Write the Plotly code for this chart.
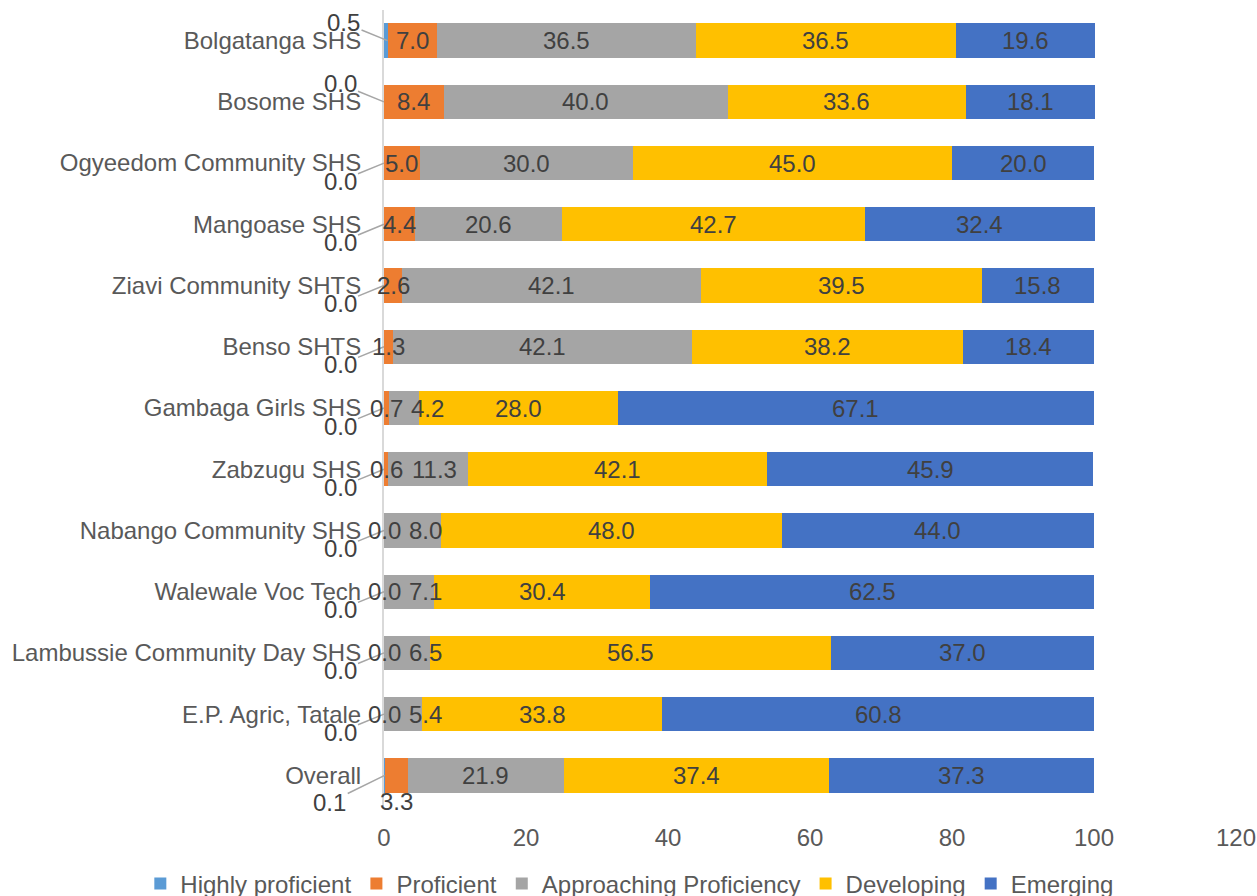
import plotly.graph_objects as go

categories = ["Bolgatanga SHS", "Bosome SHS", "Ogyeedom Community SHS", "Mangoase SHS",
              "Ziavi Community SHTS", "Benso SHTS", "Gambaga Girls SHS", "Zabzugu SHS",
              "Nabango Community SHS", "Walewale Voc Tech", "Lambussie Community Day SHS",
              "E.P. Agric, Tatale", "Overall"]
highly_proficient = [0.5, 0.0, 0.0, 0.0, 0.0, 0.0, 0.0, 0.0, 0.0, 0.0, 0.0, 0.0, 0.1]
proficient = [7.0, 8.4, 5.0, 4.4, 2.6, 1.3, 0.7, 0.6, 0.0, 0.0, 0.0, 0.0, 3.3]
approaching = [36.5, 40.0, 30.0, 20.6, 42.1, 42.1, 4.2, 11.3, 8.0, 7.1, 6.5, 5.4, 21.9]
developing = [36.5, 33.6, 45.0, 42.7, 39.5, 38.2, 28.0, 42.1, 48.0, 30.4, 56.5, 33.8, 37.4]
emerging = [19.6, 18.1, 20.0, 32.4, 15.8, 18.4, 67.1, 45.9, 44.0, 62.5, 37.0, 60.8, 37.3]
x_ticks = [0, 20, 40, 60, 80, 100, 120]

series = [
    ("Highly proficient", highly_proficient, "#5B9BD5"),
    ("Proficient", proficient, "#ED7D31"),
    ("Approaching Proficiency", approaching, "#A5A5A5"),
    ("Developing", developing, "#FFC000"),
    ("Emerging", emerging, "#4472C4"),
]

FONT = "Liberation Sans, Arial, sans-serif"
FS = 24
W, H = 1257, 896
ML, MR, MT, MB = 384, 21, 10, 90
X_MAX = 120
PX_PER_UNIT = (W - ML - MR) / X_MAX


def text_width(s):
    return FS * sum(0.278 if c == "." else 0.556 for c in s)


fig = go.Figure()
for name, vals, color in series:
    fig.add_trace(go.Bar(
        y=categories, x=vals, name=name, orientation="h",
        marker=dict(color=color, line=dict(width=0)),
    ))

last = len(categories) - 1
annotations = []
base = [0.0] * len(categories)
prev_right = [None] * len(categories)  # right edge (px from x=0) of previous inside label
for si, (name, vals, color) in enumerate(series):
    for i, v in enumerate(vals):
        txt = f"{v:.1f}"
        if si == 0:
            ay = -18 if i < 2 else (27 if i == last else 18)
            ax = -55 if i == last else -44
            annotations.append(dict(
                x=base[i] + v, y=categories[i], xref="x", yref="y",
                text=txt, showarrow=True, arrowhead=0, arrowwidth=1.5,
                arrowcolor="#A6A6A6", ax=ax, ay=ay, standoff=0,
                font=dict(family=FONT, size=FS, color="#404040"),
            ))
        else:
            yshift = 0
            xshift = 0
            centre_px = (base[i] + v / 2) * PX_PER_UNIT
            tw = text_width(txt)
            if si == 1 and i == last:
                yshift = -26
            elif prev_right[i] is not None and centre_px - tw / 2 < prev_right[i] + 8:
                xshift = prev_right[i] + 8 - (centre_px - tw / 2)
            if yshift == 0:
                prev_right[i] = centre_px + xshift + tw / 2
            annotations.append(dict(
                x=base[i] + v / 2, y=categories[i], xref="x", yref="y",
                text=txt, showarrow=False, xanchor="center", yanchor="middle",
                xshift=xshift, yshift=yshift,
                font=dict(family=FONT, size=FS, color="#404040"),
            ))
        base[i] += v

fig.update_layout(
    barmode="stack",
    bargap=0.44,
    width=W, height=H,
    margin=dict(l=ML, r=MR, t=MT, b=MB, autoexpand=False),
    paper_bgcolor="white", plot_bgcolor="white",
    font=dict(family=FONT, size=FS, color="#595959"),
    annotations=annotations,
    showlegend=True,
    legend=dict(orientation="h", x=-0.286, xanchor="left", y=-0.098, yanchor="middle",
                font=dict(family=FONT, size=FS, color="#595959"), traceorder="normal",
                itemwidth=30),
    xaxis=dict(range=[0, X_MAX], tickvals=x_ticks, showgrid=False, zeroline=False,
               showline=False, ticks="outside", ticklen=10, tickcolor="rgba(0,0,0,0)",
               tickfont=dict(family=FONT, size=FS, color="#595959")),
    yaxis=dict(categoryorder="array", categoryarray=categories, autorange="reversed",
               showgrid=False, zeroline=False, showline=True, linecolor="#D9D9D9", linewidth=2,
               ticks="outside", ticklen=16, tickcolor="rgba(0,0,0,0)",
               tickfont=dict(family=FONT, size=FS, color="#595959")),
)

fig.write_html("out.html")
